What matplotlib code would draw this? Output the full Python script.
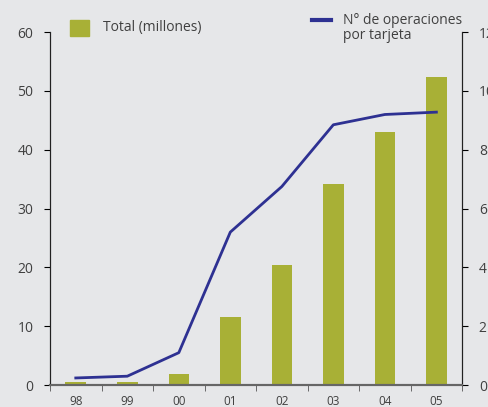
import numpy as np
import matplotlib
matplotlib.use("Agg")
from matplotlib import pyplot as plt
from matplotlib.lines import Line2D
from matplotlib.patches import Rectangle

years = ["98", "99", "00", "01", "02", "03", "04", "05"]
total = [0.5, 0.5, 1.9, 11.6, 20.4, 34.2, 43.0, 52.4]
ops_tarjeta = [0.24, 0.3, 1.1, 5.2, 6.75, 8.85, 9.2, 9.28]

bg = "#e6e7e9"
green = "#a8b036"
blue = "#2e3192"
txt = "#404040"

plt.rcParams["font.family"] = ["Open Sans", "DejaVu Sans"]

fig = plt.figure(figsize=(4.88, 4.07), dpi=100, facecolor=bg)
ax = fig.add_axes([0.1025, 0.054, 0.8445, 0.867], facecolor=bg)
ax2 = ax.twinx()

x = np.arange(len(years))
ax.bar(x, total, width=0.4, color=green, zorder=2)
ax2.plot(x, ops_tarjeta, color=blue, lw=2, zorder=3)

ax.set_xlim(-0.5, 7.5)
ax.set_ylim(0, 60)
ax2.set_ylim(0, 12)
ax.set_yticks(range(0, 61, 10))
ax2.set_yticks(range(0, 13, 2))

ax.set_xticks(x)
ax.set_xticklabels(years, fontsize=8.5, color=txt)
ax.set_xticks(np.arange(-0.5, 8, 1), minor=True)
ax.tick_params(axis="x", which="major", length=0, pad=7)
ax.tick_params(axis="x", which="minor", length=4, direction="out", color="#555555")
ax.tick_params(axis="y", length=4, direction="out", labelsize=10, labelcolor=txt, pad=8)
ax2.tick_params(axis="y", length=4, direction="out", labelsize=10, labelcolor=txt, pad=8)

for a in (ax, ax2):
    a.spines["top"].set_visible(False)
    a.spines["left"].set_color("#222222")
    a.spines["right"].set_color("#222222")
    a.spines["bottom"].set_color("#666666")
    a.spines["bottom"].set_linewidth(1.5)
ax2.patch.set_visible(False)

# legend drawn by hand, as in the original layout
W, H = 488.0, 407.0
fig.patches.append(Rectangle((70 / W, 1 - 36 / H), 19 / W, 16 / H,
                             transform=fig.transFigure, color=green))
fig.text(103 / W, 1 - 28 / H, "Total (millones)", fontsize=10, color=txt,
         va="center", ha="left")
fig.lines.append(Line2D([312 / W, 331 / W], [1 - 20 / H, 1 - 20 / H],
                        transform=fig.transFigure, color=blue, lw=3))
fig.text(343 / W, 1 - 13 / H, "N\u00b0 de operaciones\npor tarjeta", fontsize=10,
         color=txt, va="top", ha="left", linespacing=1.0)

plt.savefig("out.png", dpi=100, facecolor=bg)
